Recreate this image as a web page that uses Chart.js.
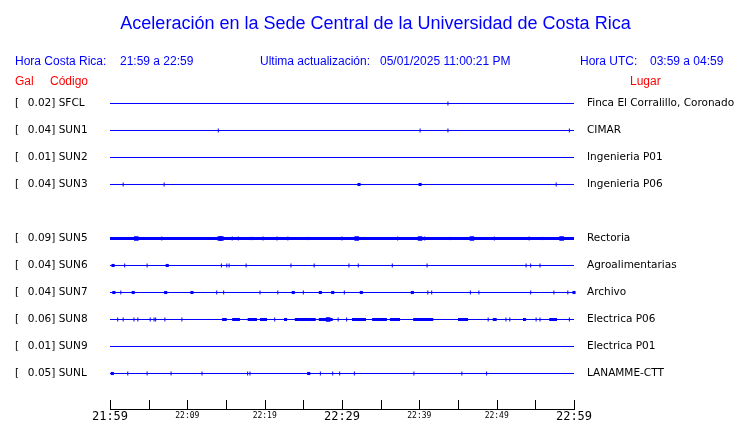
<!DOCTYPE html>
<html lang="es">
<head>
<meta charset="utf-8">
<title>Aceleración en la Sede Central de la Universidad de Costa Rica</title>
<script src="https://cdn.jsdelivr.net/npm/chart.js@4.4.1/dist/chart.umd.min.js"></script>
<style>
  html, body { margin: 0; padding: 0; background: #fff; }
  #wrap { width: 740px; height: 423px; }
</style>
</head>
<body>
<div id="wrap"><canvas id="acel" width="740" height="423"></canvas></div>
<script>
// estaciones (orden de arriba hacia abajo), fila 4 queda vacia
const codes = ['SFCL', 'SUN1', 'SUN2', 'SUN3', 'SUN5', 'SUN6', 'SUN7', 'SUN8', 'SUN9', 'SUNL'];
const places = ['Finca El Corralillo, Coronado', 'CIMAR', 'Ingenieria P01', 'Ingenieria P06', 'Rectoria',
    'Agroalimentarias', 'Archivo', 'Electrica P06', 'Electrica P01', 'LANAMME-CTT'];
const gal = [0.02, 0.04, 0.01, 0.04, 0.09, 0.04, 0.04, 0.06, 0.01, 0.05];
const rows = [0, 1, 2, 3, 5, 6, 7, 8, 9, 10];

// eje de tiempo: minutos desde 21:59, etiqueta cada 10 min
const timeLabels = ['21:59', '22:09', '22:19', '22:29', '22:39', '22:49', '22:59'];

// picos: [minuto, tamaño] (1 = raya, 2 = punto, 3 = punto grande)
const spikesSFCL = [[43.7, 1]];
const spikesSUN1 = [[14.0, 1], [40.1, 1], [43.7, 1], [59.4, 1]];
const spikesSUN2 = [];
const spikesSUN3 = [[1.7, 1], [7.0, 1], [32.2, 2], [40.1, 2], [57.7, 1]];
const spikesSUN5 = [[3.4, 3], [6.7, 1], [14.2, 3], [14.4, 3], [15.8, 1], [16.6, 1], [18.2, 2], [18.4, 2],
    [19.8, 1], [21.6, 1], [23.0, 1], [25.5, 2], [30.0, 1], [31.9, 3], [37.2, 1], [40.1, 3], [40.7, 1],
    [44.0, 2], [46.8, 3], [49.7, 1], [54.2, 1], [55.9, 2], [58.4, 3]];
const spikesSUN6 = [[0.4, 2], [1.9, 1], [4.8, 1], [7.4, 2], [14.4, 1], [15.1, 1], [15.4, 1], [17.6, 1],
    [23.4, 1], [26.4, 1], [30.9, 1], [32.1, 1], [36.5, 1], [41.0, 1], [53.8, 1], [54.4, 1], [55.6, 1]];
const spikesSUN7 = [[0.5, 2], [1.4, 1], [3.0, 2], [7.2, 2], [10.6, 2], [13.8, 1], [14.7, 1], [19.4, 1],
    [21.7, 1], [23.7, 2], [25.0, 1], [27.2, 2], [28.8, 2], [30.3, 1], [32.5, 2], [39.1, 2], [41.1, 1],
    [41.6, 1], [46.6, 1], [47.7, 1], [54.4, 1], [57.4, 1], [59.2, 1], [60.0, 2]];
const spikesSUN8 = [[1.0, 1], [1.7, 1], [3.1, 1], [3.6, 1], [5.2, 1], [5.7, 1], [5.9, 1], [7.1, 1], [9.3, 1],
    [21.3, 1], [28.2, 3], [29.5, 1], [30.6, 1], [48.9, 1], [51.2, 1], [51.7, 1], [55.1, 1], [55.6, 1], [59.4, 1]];
const spikesSUN9 = [];
const spikesSUNL = [[0.3, 2], [2.3, 1], [4.8, 1], [7.9, 1], [11.9, 1], [17.8, 1], [18.1, 1], [25.7, 2],
    [27.2, 1], [28.8, 1], [29.7, 1], [31.6, 1], [39.3, 1], [45.5, 1], [48.7, 1]];

// tramos con mucho ruido (traza gruesa): [inicio, fin] en minutos
const bandsSUN5 = [[0, 60]];
const bandsSUN8 = [[14.5, 15.1], [15.8, 16.8], [17.8, 19.0], [19.4, 20.3], [22.5, 22.9], [23.9, 26.6],
    [27.0, 28.8], [31.3, 33.1], [33.9, 35.8], [36.2, 37.5], [39.2, 41.8], [45.0, 46.3], [49.5, 50.0],
    [53.4, 53.8], [56.8, 57.8]];

const spikes = [spikesSFCL, spikesSUN1, spikesSUN2, spikesSUN3, spikesSUN5,
    spikesSUN6, spikesSUN7, spikesSUN8, spikesSUN9, spikesSUNL];
const bands = [[], [], [], [], bandsSUN5, [], [], bandsSUN8, [], []];

const blue = '#0000ff';
const red = '#ff0000';
const dotRadius = [0, 2, 2.2, 3.2];

const datasets = [];
codes.forEach((code, i) => {
    const y = rows[i];
    datasets.push({
        type: 'line',
        label: code,
        data: [{ x: 0, y }, { x: 60, y }],
        borderColor: blue,
        borderWidth: 1,
        pointRadius: 0,
    });
    if (bands[i].length) {
        datasets.push({
            type: 'line',
            label: code + ' ruido',
            data: bands[i].flatMap(([a, b]) => [{ x: a, y }, { x: b, y }, { x: b, y: null }]),
            borderColor: blue,
            borderWidth: 3,
            pointRadius: 0,
            spanGaps: false,
        });
    }
    datasets.push({
        type: 'scatter',
        label: code + ' picos',
        data: spikes[i].map(([x, s]) => ({ x, y, s })),
        clip: false,
        pointStyle: (c) => (c.raw && c.raw.s > 1 ? 'rect' : 'line'),
        pointRotation: (c) => (c.raw && c.raw.s > 1 ? 0 : 90),
        pointRadius: (c) => (c.raw ? dotRadius[c.raw.s] : 2),
        pointBorderWidth: (c) => (c.raw && c.raw.s > 1 ? 0 : 1),
        pointBorderColor: blue,
        pointBackgroundColor: blue,
    });
});

// titulos y encabezados
const headerPlugin = {
    id: 'header',
    beforeDraw(chart) {
        const ctx = chart.ctx;
        ctx.save();
        ctx.fillStyle = '#fff';
        ctx.fillRect(0, 0, chart.width, chart.height);
        ctx.textBaseline = 'alphabetic';
        ctx.fillStyle = blue;
        ctx.font = '18px "Liberation Sans", Arial, sans-serif';
        ctx.textAlign = 'center';
        ctx.fillText('Aceleración en la Sede Central de la Universidad de Costa Rica', 375.5, 29);
        ctx.textAlign = 'left';
        ctx.font = '12px "Liberation Sans", Arial, sans-serif';
        ctx.fillText('Hora Costa Rica:', 15, 65);
        ctx.fillText(timeLabels[0] + ' a ' + timeLabels[timeLabels.length - 1], 120, 65);
        ctx.fillText('Ultima actualización:', 260, 65);
        ctx.fillText('05/01/2025 11:00:21 PM', 380, 65);
        ctx.fillText('Hora UTC:', 580, 65);
        ctx.fillText('03:59 a 04:59', 650, 65);
        ctx.fillStyle = red;
        ctx.fillText('Gal', 15, 85);
        ctx.fillText('Código', 50, 85);
        ctx.fillText('Lugar', 630, 85);
        ctx.restore();
    },
    // marcas del eje de tiempo hacia arriba
    afterDraw(chart) {
        const ctx = chart.ctx;
        const xs = chart.scales.x;
        const bottom = chart.chartArea.bottom;
        ctx.save();
        ctx.strokeStyle = '#000';
        ctx.lineWidth = 1;
        ctx.beginPath();
        xs.ticks.forEach((t) => {
            const px = Math.round(xs.getPixelForValue(t.value)) + 0.5;
            ctx.moveTo(px, bottom);
            ctx.lineTo(px, bottom - 9);
        });
        ctx.stroke();
        ctx.restore();
    },
};

const noPad = (s) => {
    s.paddingTop = 0;
    s.paddingBottom = 0;
    s.paddingLeft = 0;
    s.paddingRight = 0;
};

new Chart(document.getElementById('acel'), {
    data: { datasets },
    options: {
        responsive: false,
        animation: false,
        events: [],
        layout: { padding: { top: 90, left: 15, right: 0, bottom: 0 } },
        plugins: {
            legend: { display: false },
            tooltip: { enabled: false },
        },
        scales: {
            x: {
                type: 'linear',
                min: 0,
                max: 60,
                grid: { display: false, drawTicks: false },
                border: { display: true, color: '#000', width: 1 },
                ticks: {
                    stepSize: 5,
                    autoSkip: false,
                    maxRotation: 0,
                    padding: 1,
                    color: '#000',
                    font: (c) => (c.tick && c.tick.value % 30 === 0
                        ? { family: 'DejaVu Sans Mono', size: 12, lineHeight: 1.1 }
                        : { family: 'DejaVu Sans Mono', size: 8, lineHeight: 1.6 }),
                    callback: (v) => (v % 10 === 0 ? timeLabels[v / 10] : ''),
                },
                afterFit: (s) => { s.height = 14; noPad(s); },
            },
            y: {
                type: 'linear',
                position: 'left',
                min: -0.5,
                max: 11.315,
                reverse: true,
                grid: { display: false, drawTicks: false },
                border: { display: false },
                afterBuildTicks: (s) => { s.ticks = rows.map((v) => ({ value: v })); },
                ticks: {
                    crossAlign: 'far',
                    padding: 0,
                    autoSkip: false,
                    color: '#000',
                    font: { family: 'DejaVu Sans', size: 10.5 },
                    callback: (v) => {
                        const i = rows.indexOf(v);
                        return i < 0 ? '' : '[  \u2009' + gal[i].toFixed(2) + '] ' + codes[i];
                    },
                },
                afterFit: (s) => { s.width = 95; noPad(s); },
            },
            y2: {
                type: 'linear',
                position: 'right',
                min: -0.5,
                max: 11.315,
                reverse: true,
                grid: { display: false, drawTicks: false },
                border: { display: false },
                afterBuildTicks: (s) => { s.ticks = rows.map((v) => ({ value: v })); },
                ticks: {
                    crossAlign: 'near',
                    padding: 13,
                    autoSkip: false,
                    color: '#000',
                    font: { family: 'DejaVu Sans', size: 10.5 },
                    callback: (v) => {
                        const i = rows.indexOf(v);
                        return i < 0 ? '' : places[i];
                    },
                },
                afterFit: (s) => { s.width = 166; noPad(s); },
            },
        },
    },
    plugins: [headerPlugin],
});
</script>
</body>
</html>
